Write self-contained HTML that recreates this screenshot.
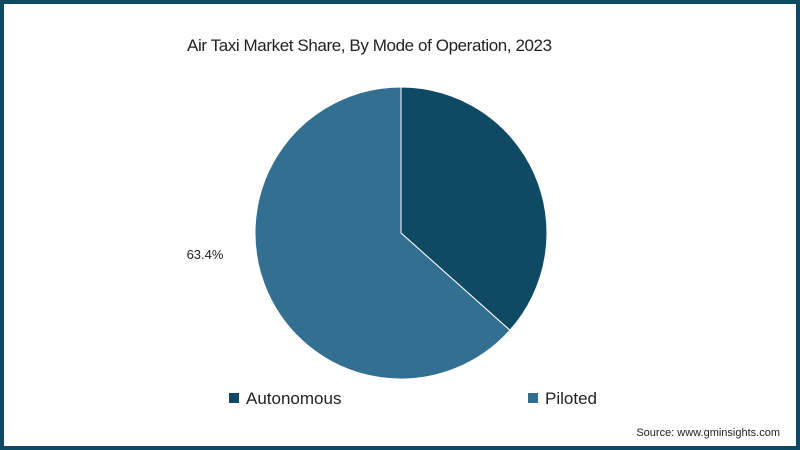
<!DOCTYPE html>
<html><head><meta charset="utf-8"><style>
html,body{margin:0;padding:0;background:#fff;}
#frame{position:absolute;left:0;top:0;width:792px;height:442px;border:4px solid #0f4a64;background:#fff;font-family:"Liberation Sans",sans-serif;}
#title{position:absolute;left:183px;top:32px;font-size:17px;color:#222;letter-spacing:-0.4px;}
.leg{position:absolute;top:385px;font-size:17px;color:#222;}
.sw{display:inline-block;width:10px;height:10px;margin-right:7px;vertical-align:1px;}
#src{position:absolute;right:16px;top:423px;font-size:11px;color:#222;}
</style></head><body>
<div id="frame">
<div id="title">Air Taxi Market Share, By Mode of Operation, 2023</div>
<svg id="pie" width="792" height="442" style="position:absolute;left:-4px;top:-4px"></svg>
<div class="leg" style="left:225px"><span class="sw" style="background:#0f4a64"></span>Autonomous</div>
<div class="leg" style="left:524px"><span class="sw" style="background:#336f91"></span>Piloted</div>
<div id="src">Source: www.gminsights.com</div>
</div>
<script>
const categories=["Autonomous","Piloted"];
const values=[36.6,63.4];
const labels=["","63.4%"];
const colors=["#0f4a64","#336f91"];
const svg=document.getElementById('pie');
const cx=401,cy=233,r=146;
const total=values.reduce((a,b)=>a+b,0);
let start=0;
function pt(a,rr){return [cx+rr*Math.sin(a),cy-rr*Math.cos(a)];}
values.forEach((v,i)=>{
  const a0=start/total*2*Math.PI, a1=(start+v)/total*2*Math.PI;
  const p0=pt(a0,r),p1=pt(a1,r);
  const large=(a1-a0)>Math.PI?1:0;
  const path=document.createElementNS('http://www.w3.org/2000/svg','path');
  path.setAttribute('d',`M${cx},${cy}L${p0[0]},${p0[1]}A${r},${r} 0 ${large} 1 ${p1[0]},${p1[1]}Z`);
  path.setAttribute('fill',colors[i]);
  path.setAttribute('stroke','#fff');
  path.setAttribute('stroke-width','1');
  
  
  svg.appendChild(path);
  if(labels[i]){
    const t=document.createElementNS('http://www.w3.org/2000/svg','text');
    t.setAttribute('x',cx-r-50);t.setAttribute('y',cy+26);
    t.setAttribute('text-anchor','middle');
    t.setAttribute('font-family','Liberation Sans, sans-serif');
    t.setAttribute('font-size','13');t.setAttribute('fill','#222');
    t.textContent=labels[i];
    
    
    svg.appendChild(t);
  }
  start+=v;
});
</script>
</body></html>
